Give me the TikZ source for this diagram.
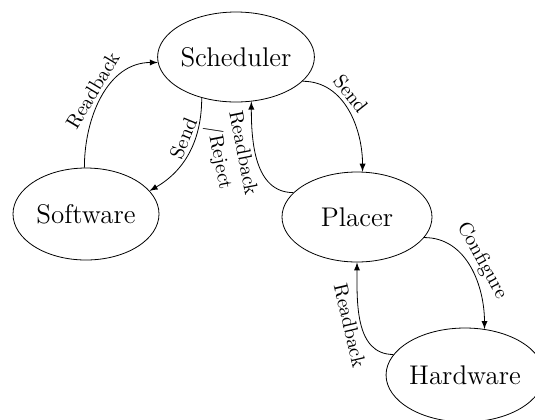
\documentclass[tikz,border=0pt]{standalone}
\usepackage{amsmath}
\usepackage{tikz}
\usetikzlibrary{arrows,shapes}
\usetikzlibrary{positioning}
\tikzstyle{flow}=[every node/.style={ellipse,draw=black,thin,inner sep=0pt,
                text=black,font=\fontsize{13.5pt}{16pt}\selectfont}, >=latex]
\tikzstyle{elabel}=[fill=none,text=black,rectangle,draw=none,sloped,
inner sep=2pt, outer sep=0, font=\normalsize, align=center]

\begin{document}
\begin{tikzpicture}[flow, x=0.5pt, y=-0.5pt]
  \path[use as bounding box] (0,0) rectangle (535,419);
  \node[minimum width=76pt, minimum height=45pt] (sched) at (236,57) {Scheduler};
  \node[minimum width=73pt, minimum height=46pt] (soft) at (86,214) {Software};
  \node[minimum width=75pt, minimum height=45pt] (place) at (357,217) {Placer};
  \node[minimum width=70pt, minimum height=47pt] (hard) at (465,375) {Hardware};
  \path[->, thin]
    (soft.92) edge[out=90, in=180] node[elabel, above, pos=0.5] {Readback} (sched.184)
    (sched.230) edge[out=-90, in=30] node[elabel, above, pos=0.4] {Send} (soft.20)
    (sched.-20) edge[out=0, in=90] node[elabel, above, pos=0.4] {Send} (place.83)
    (place.159) edge[out=180, in=-90] node[elabel, below, pos=0.6] {Readback\\/Reject} (sched.-71)
    (place.-17) edge[out=0, in=90] node[elabel, above, pos=0.5] {Configure} (hard.67)
    (hard.164) edge[out=180, in=-90] node[elabel, below, pos=0.5] {Readback} (place.-90);
\end{tikzpicture}
\end{document}
